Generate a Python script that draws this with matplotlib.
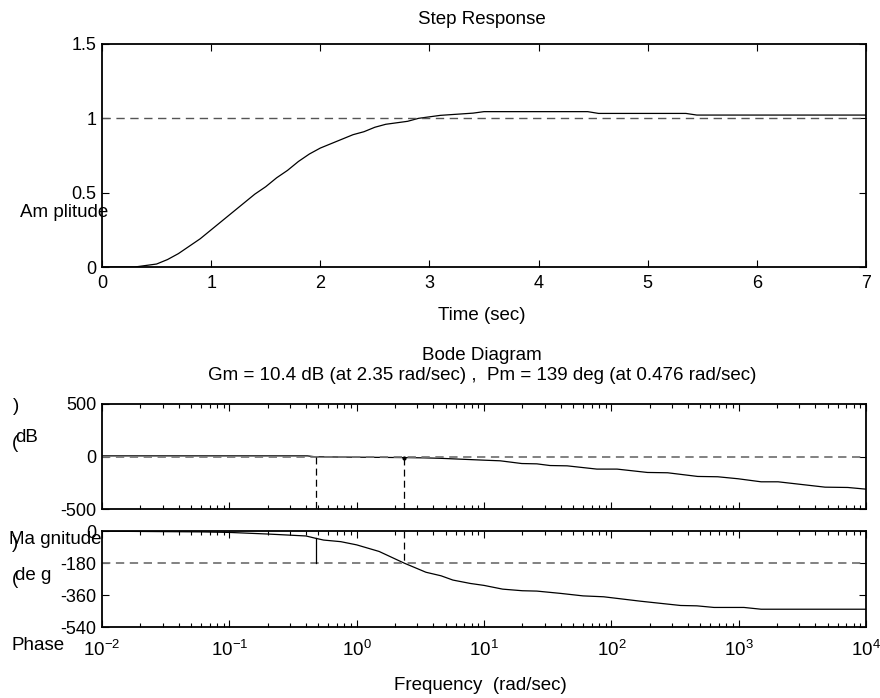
import numpy as np
import matplotlib
matplotlib.use('Agg')
import matplotlib.pyplot as plt
from matplotlib.ticker import FuncFormatter, LogLocator, NullFormatter

plt.rcParams['font.family'] = ['Liberation Sans', 'DejaVu Sans']
plt.rcParams['mathtext.fontset'] = 'custom'
plt.rcParams['mathtext.rm'] = 'Liberation Sans'
plt.rcParams['mathtext.default'] = 'regular'
plt.rcParams['axes.unicode_minus'] = False
plt.rcParams['lines.scale_dashes'] = False

# step response samples
step_t = [0.0, 0.3, 0.4, 0.5, 0.6, 0.7, 0.8, 0.9, 1.0, 1.1, 1.2, 1.3, 1.4, 1.5,
          1.6, 1.7, 1.8, 1.9, 2.0, 2.1, 2.2, 2.3, 2.4, 2.5, 2.6, 2.7, 2.8, 2.9,
          3.0, 3.1, 3.3, 3.4, 3.5, 4.45, 4.55, 5.35, 5.45, 7.0]
step_y = [0.0, 0.0, 0.01, 0.02, 0.05, 0.09, 0.14, 0.19, 0.25, 0.31, 0.37, 0.43,
          0.49, 0.54, 0.60, 0.65, 0.71, 0.76, 0.80, 0.83, 0.86, 0.89, 0.91, 0.94,
          0.96, 0.97, 0.98, 1.00, 1.01, 1.02, 1.03, 1.035, 1.045, 1.045, 1.033,
          1.033, 1.022, 1.022]

# bode magnitude
mag_w = [0.01, 0.41, 0.476, 2.35, 3.4, 4.5, 10, 13.4, 19.8, 26, 33, 45, 77, 111,
         192, 277, 477, 685, 990, 1500, 2040, 4770, 7200, 10000]
mag_db = [6, 6, -3, -10.4, -13, -17, -35, -41, -67, -70, -86, -89, -120, -120,
          -152, -155, -190, -193, -212, -241, -241, -292, -295, -311]

# bode phase
ph_w = [0.01, 0.06, 0.1, 0.2, 0.4, 0.476, 0.55, 0.75, 1.0, 1.5, 2.35, 3.5, 4.6,
        5.7, 7.8, 10, 14, 20, 26, 40, 60, 87, 170, 350, 470, 640, 1100, 1500, 10000]
ph_deg = [-1, -5, -8, -17, -28, -41, -51, -60, -78, -115, -180, -232, -252, -276,
          -295, -306, -327, -336, -338, -351, -365, -370, -395, -419, -421, -430,
          -430, -440, -440]

# margins
gm_w, gm_db = 2.35, 10.4
pm_w, pm_deg = 0.476, 139

W, H = 880, 698
FS = 13.5
fig = plt.figure(figsize=(W / 100, H / 100), dpi=100)


def box(top, bottom, left=102, right=866):
    return [left / W, 1 - bottom / H, (right - left) / W, (bottom - top) / H]


def ftext(x, y, s, **kw):
    kw.setdefault('fontsize', FS)
    fig.text(x / W, 1 - y / H, s, **kw)


def style(ax):
    for sp in ax.spines.values():
        sp.set_linewidth(1.3)
    ax.tick_params(which='both', direction='in', top=True, right=True,
                   labelsize=13, width=0.8)
    ax.tick_params(which='major', length=5)
    ax.tick_params(which='minor', length=3)


ax1 = fig.add_axes(box(44, 267))
ax2 = fig.add_axes(box(404, 509))
ax3 = fig.add_axes(box(531, 627))

# step response
ax1.plot(step_t, step_y, color='black', lw=0.9)
ax1.axhline(1.0, color='#555555', lw=1.0, dashes=(6, 4))
ax1.set_xlim(0, 7)
ax1.set_ylim(0, 1.5)
ax1.set_xticks(range(8))
ax1.set_yticks([0, 0.5, 1, 1.5])
ax1.set_yticklabels(['0', '0.5', '1', '1.5'])
style(ax1)
ax1.tick_params(axis='x', pad=6)
ax1.tick_params(axis='y', pad=4)

# magnitude
ax2.semilogx(mag_w, mag_db, color='black', lw=0.9)
ax2.axhline(0, color='#777777', lw=1.3, dashes=(6, 4))
ax2.plot([pm_w, pm_w], [0, -500], color='black', lw=0.9, dashes=(5, 3))
ax2.plot([gm_w, gm_w], [-gm_db, -500], color='black', lw=0.9, dashes=(5, 3))
ax2.plot([gm_w], [-gm_db], 'o', color='black', ms=2)
ax2.set_xlim(1e-2, 1e4)
ax2.set_ylim(-500, 500)
ax2.set_yticks([-500, 0, 500])
ax2.xaxis.set_major_locator(LogLocator(base=10, numticks=10))
ax2.xaxis.set_minor_locator(LogLocator(base=10, subs=np.arange(2, 10), numticks=10))
ax2.xaxis.set_major_formatter(NullFormatter())
ax2.xaxis.set_minor_formatter(NullFormatter())
style(ax2)
ax2.tick_params(axis='y', pad=4)

# phase
ax3.semilogx(ph_w, ph_deg, color='black', lw=0.9)
ax3.axhline(-180, color='#777777', lw=1.3, dashes=(6, 4))
ax3.plot([pm_w, pm_w], [-180, -180 + pm_deg], color='black', lw=0.9)
ax3.plot([gm_w, gm_w], [0, -180], color='black', lw=0.9, dashes=(5, 3))
ax3.set_xlim(1e-2, 1e4)
ax3.set_ylim(-540, 0)
ax3.set_yticks([-540, -360, -180, 0])
ax3.xaxis.set_major_locator(LogLocator(base=10, numticks=10))
ax3.xaxis.set_minor_locator(LogLocator(base=10, subs=np.arange(2, 10), numticks=10))
ax3.xaxis.set_major_formatter(FuncFormatter(
    lambda v, p: '$10^{%d}$' % int(round(np.log10(v)))))
ax3.xaxis.set_minor_formatter(NullFormatter())
style(ax3)
ax3.tick_params(axis='x', labelsize=13.5, pad=9)
ax3.tick_params(axis='y', pad=4)

# titles and labels
ftext(482, 20, 'Step Response', ha='center', va='center')
ftext(482, 316, 'Time (sec)', ha='center', va='center')
ftext(482, 355, 'Bode Diagram', ha='center', va='center')
ftext(482, 375, 'Gm = 10.4 dB (at %.2f rad/sec) ,  Pm = %d deg (at %.3f rad/sec)'
      % (gm_w, pm_deg, pm_w), ha='center', va='center')
ftext(480, 686, 'Frequency  (rad/sec)', ha='center', va='center')

# broken-up y labels
ftext(20, 212, 'Am plitude', ha='left', va='center')
ftext(13, 407, ')', ha='left', va='center')
ftext(15, 438, 'dB', ha='left', va='center')
ftext(12, 444, '(', ha='left', va='center')
ftext(9, 539, 'Ma gnitude', ha='left', va='center')
ftext(12, 544, ')', ha='left', va='center')
ftext(15, 575, 'de g', ha='left', va='center')
ftext(12, 580, '(', ha='left', va='center')
ftext(11, 645, 'Phase', ha='left', va='center')

fig.savefig('out.png', dpi=100)
